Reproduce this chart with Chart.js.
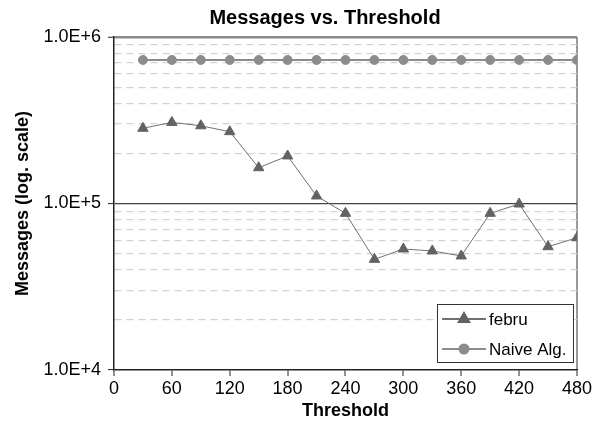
<!DOCTYPE html>
<html lang="en">
<head>
    <meta charset="UTF-8">
    <title>Messages vs. Threshold</title>
    <script src="https://cdn.jsdelivr.net/npm/chart.js"></script>
    <style>
        body {
            margin: 0;
            background: #fff;
        }
        #chart {
            display: block;
        }
    </style>
</head>
<body>
    <canvas id="chart" width="594" height="424"></canvas>

    <script>
        const chartTitle = 'Messages vs. Threshold';
        const xTitle = 'Threshold';
        const yTitle = 'Messages (log. scale)';

        const thresholds = [30, 60, 90, 120, 150, 180, 210, 240, 270, 300, 330, 360, 390, 420, 450, 480];
        const febru = [283000, 307000, 293000, 270000, 164000, 193000, 111000, 87300,
                       46200, 53300, 51900, 48400, 87300, 99300, 55000, 62300];
        const naive = [728000, 728000, 728000, 728000, 728000, 728000, 728000, 728000,
                       728000, 728000, 728000, 728000, 728000, 728000, 728000, 728000];

        const font = '"Liberation Sans", Arial, sans-serif';

        const isDecade = v => {
            const e = Math.log10(v);
            return Math.abs(e - Math.round(e)) < 1e-9;
        };

        // title sits over the plot, a bit left of the plot centre
        const titlePlugin = {
            id: 'chartTitle',
            afterDraw(chart) {
                const c = chart.ctx;
                c.save();
                c.font = 'bold 20px ' + font;
                c.fillStyle = '#000';
                c.textAlign = 'center';
                c.textBaseline = 'middle';
                c.fillText(chartTitle, 325, 18);
                c.restore();
            }
        };

        // boxed legend in the lower right corner of the plot
        const boxLegend = {
            id: 'boxLegend',
            afterDraw(chart) {
                const c = chart.ctx;
                const a = chart.chartArea;
                const w = 136, h = 58;
                const left = a.right - 4 - w;
                const top = a.bottom - 8 - h;
                c.save();
                c.fillStyle = '#fff';
                c.fillRect(left, top, w, h);
                c.strokeStyle = '#333';
                c.lineWidth = 1;
                c.strokeRect(left + 0.5, top + 0.5, w, h);
                chart.data.datasets.forEach((ds, i) => {
                    const y = top + 15 + i * 30;
                    c.strokeStyle = ds.borderColor;
                    c.lineWidth = 2;
                    c.beginPath();
                    c.moveTo(left + 5, y);
                    c.lineTo(left + 49, y);
                    c.stroke();
                    c.fillStyle = ds.pointBackgroundColor;
                    c.strokeStyle = ds.pointBackgroundColor;
                    Chart.helpers.drawPoint(c, {
                        pointStyle: ds.pointStyle,
                        radius: ds.pointRadius,
                        rotation: 0,
                        borderWidth: 1
                    }, left + 27, y);
                    c.fillStyle = '#000';
                    c.font = '17px ' + font;
                    c.textAlign = 'left';
                    c.textBaseline = 'middle';
                    c.fillText(ds.label, left + 52, y + 1);
                });
                c.restore();
            }
        };

        const ctx = document.getElementById('chart').getContext('2d');

        new Chart(ctx, {
            type: 'line',
            data: {
                datasets: [{
                    label: 'febru',
                    data: thresholds.map((t, i) => ({ x: t, y: febru[i] })),
                    borderColor: '#707070',
                    borderWidth: 1,
                    pointStyle: 'triangle',
                    pointRadius: 6,
                    pointBackgroundColor: '#626262',
                    pointBorderColor: '#626262',
                    pointBorderWidth: 1,
                    fill: false
                }, {
                    label: 'Naive Alg.',
                    data: thresholds.map((t, i) => ({ x: t, y: naive[i] })),
                    borderColor: '#8c8c8c',
                    borderWidth: 2,
                    pointStyle: 'circle',
                    pointRadius: 4.5,
                    pointBackgroundColor: '#8c8c8c',
                    pointBorderColor: '#8c8c8c',
                    pointBorderWidth: 1,
                    fill: false
                }]
            },
            options: {
                responsive: false,
                animation: false,
                layout: {
                    padding: { top: 37, right: 16, bottom: 0, left: 0 }
                },
                scales: {
                    x: {
                        type: 'linear',
                        min: 0,
                        max: 480,
                        afterFit: s => { s.height = 54; },
                        ticks: {
                            stepSize: 60,
                            color: '#000',
                            padding: 2,
                            font: { family: font, size: 18 }
                        },
                        grid: {
                            drawOnChartArea: true,
                            color: c => c.tick && c.tick.value === 480 ? '#999' : 'rgba(0,0,0,0)',
                            lineWidth: 2,
                            tickColor: '#222',
                            tickLength: 6,
                            tickWidth: 1
                        },
                        border: { color: '#222', width: 1.5 },
                        title: {
                            display: true,
                            text: xTitle,
                            color: '#000',
                            font: { family: font, size: 18, weight: 'bold' },
                            padding: { top: 0, bottom: 2 }
                        }
                    },
                    y: {
                        type: 'logarithmic',
                        min: 10000,
                        max: 1000000,
                        afterFit: s => { s.width = 114; },
                        afterBuildTicks: s => {
                            s.ticks = s.ticks.filter(t => {
                                const m = t.value / Math.pow(10, Math.floor(Math.log10(t.value) + 1e-9));
                                return Math.abs(m - Math.round(m)) < 1e-6;
                            });
                        },
                        ticks: {
                            autoSkip: false,
                            color: '#000',
                            padding: 7,
                            font: { family: font, size: 18 },
                            callback: v => isDecade(v) ? '1.0E+' + Math.round(Math.log10(v)) : ''
                        },
                        grid: {
                            color: c => {
                                const v = c.tick ? c.tick.value : 0;
                                if (v >= 999999) return '#8a8a8a';
                                if (v <= 10001) return 'rgba(0,0,0,0)';
                                if (isDecade(v)) return '#444';
                                return '#d2d2d2';
                            },
                            lineWidth: c => {
                                const v = c.tick ? c.tick.value : 0;
                                if (v >= 999999) return 2.5;
                                return 1.2;
                            },
                            tickColor: c => c.tick && isDecade(c.tick.value) ? '#222' : 'rgba(0,0,0,0)',
                            tickLength: 6,
                            tickWidth: 1
                        },
                        border: {
                            color: '#222',
                            width: 1.5,
                            dash: c => c.tick && !isDecade(c.tick.value) ? [7, 5] : []
                        },
                        title: {
                            display: true,
                            text: yTitle,
                            color: '#000',
                            font: { family: font, size: 18, weight: 'bold' },
                            padding: { top: 12, bottom: 0 }
                        }
                    }
                },
                plugins: {
                    legend: { display: false },
                    tooltip: { enabled: false }
                }
            },
            plugins: [titlePlugin, boxLegend]
        });
    </script>
</body>
</html>
